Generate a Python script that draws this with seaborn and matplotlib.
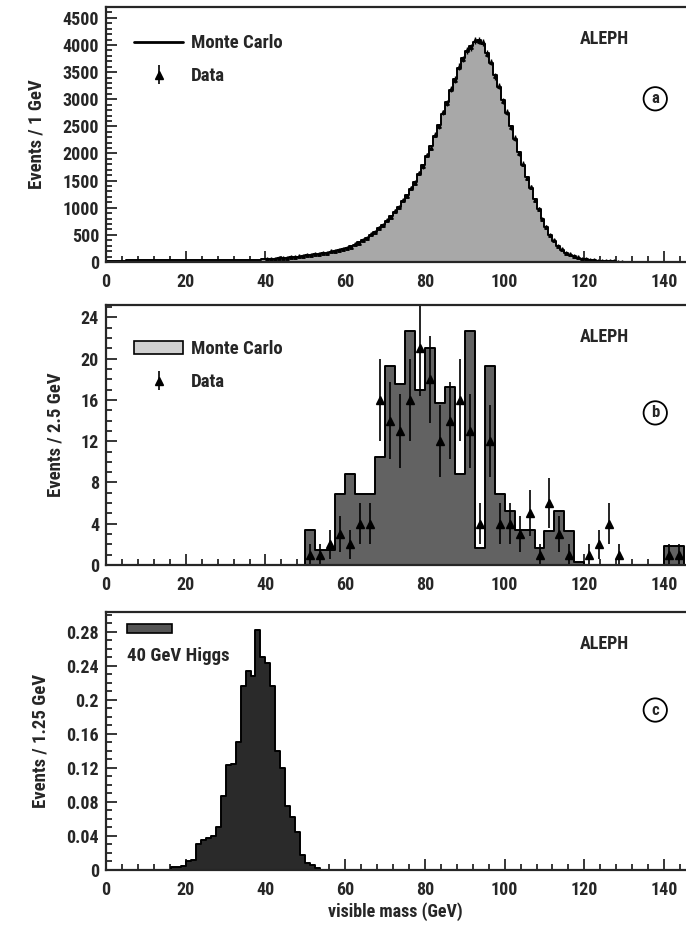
import numpy as np
import pandas as pd
import matplotlib
matplotlib.use("Agg")
import matplotlib.pyplot as plt
from matplotlib.patches import Patch, Rectangle
from matplotlib.lines import Line2D
from matplotlib.ticker import MultipleLocator
import seaborn as sns

# ---------------- data ----------------
# panel (a): 1 GeV bins, 0..150
edges_a = list(range(0, 151))
mc_a = [10, 15, 20, 25, 25, 30, 30, 30, 30, 30,
        30, 35, 35, 35, 35, 40, 40, 40, 40, 40,
        40, 40, 40, 40, 40, 35, 35, 35, 35, 35,
        35, 35, 35, 35, 35, 40, 40, 45, 45, 50,
        50, 55, 60, 65, 70, 75, 85, 95, 100, 110,
        120, 130, 140, 150, 160, 175, 190, 205, 220, 240,
        260, 290, 320, 360, 400, 450, 500, 560, 620, 690,
        760, 840, 930, 1020, 1120, 1230, 1350, 1480, 1620, 1780,
        1950, 2130, 2320, 2520, 2730, 2950, 3170, 3380, 3580, 3760,
        3880, 3980, 4060, 4100, 4020, 3860, 3660, 3440, 3220, 2980,
        2740, 2500, 2260, 2020, 1790, 1570, 1360, 1160, 970, 800,
        640, 500, 390, 300, 230, 175, 135, 105, 80, 62,
        50, 40, 32, 26, 21, 17, 14, 11, 9, 8,
        7, 6, 5, 5, 4, 4, 3, 3, 3, 2, 2, 2, 2, 2, 1, 1, 1, 1, 1, 1]
data_a_x = [m + 0.5 for m in range(40, 130)]
data_a = [48, 58, 57, 68, 72, 73, 88, 92, 104, 108,
          124, 127, 143, 148, 165, 171, 194, 201, 226, 236,
          266, 285, 327, 352, 408, 442, 510, 552, 631, 680,
          772, 831, 942, 1008, 1135, 1218, 1366, 1465, 1637, 1762,
          1972, 2110, 2345, 2498, 2756, 2928, 3195, 3362, 3602, 3741,
          3905, 3961, 4085, 4082, 4046, 3838, 3684, 3421, 3247, 2961,
          2768, 2482, 2285, 2001, 1812, 1553, 1378, 1146, 986, 788,
          652, 493, 398, 294, 236, 171, 139, 102, 83, 60,
          52, 39, 33, 25, 22, 16, 15, 10, 9, 8]

# panel (b): 2.5 GeV bins, 0..150
edges_b = [2.5 * i for i in range(61)]
mc_b = [0] * 20 + [3.4, 1.5, 1.5, 6.9, 8.8, 6.9, 6.9, 10.5, 19.3, 17.5,
                   22.7, 17.0, 21.0, 15.7, 17.3, 8.8, 22.7, 1.6, 19.3, 6.9,
                   5.2, 3.4, 3.4, 1.6, 3.3, 5.2, 3.3, 0.3, 0, 0,
                   0, 0, 0, 0, 0, 0, 1.8, 1.8, 0, 0]
data_b_x = [51.25, 53.75, 56.25, 58.75, 61.25, 63.75, 66.25, 68.75, 71.25, 73.75,
            76.25, 78.75, 81.25, 83.75, 86.25, 88.75, 91.25, 93.75, 96.25, 98.75,
            101.25, 103.75, 106.25, 108.75, 111.25, 113.75, 116.25, 121.25, 123.75,
            126.25, 128.75, 141.25, 143.75]
data_b = [1, 1, 2, 3, 2, 4, 4, 16, 14, 13,
          16, 21, 18, 12, 14, 16, 13, 4, 12, 4,
          4, 3, 5, 1, 6, 3, 1, 1, 2,
          4, 1, 1, 1]

# panel (c): 1.25 GeV bins, 15..55
edges_c = [15 + 1.25 * i for i in range(33)]
mc_c = [0.0, 0.003, 0.003, 0.005, 0.010, 0.012, 0.030, 0.035, 0.038, 0.040,
        0.050, 0.087, 0.123, 0.125, 0.150, 0.216, 0.234, 0.228, 0.282, 0.250,
        0.244, 0.216, 0.140, 0.120, 0.075, 0.062, 0.045, 0.018, 0.008, 0.006,
        0.002, 0.0]

# ---------------- style ----------------
sns.set_theme(style="ticks")
FONT = ["Roboto Condensed", "Liberation Sans Narrow", "Liberation Sans", "DejaVu Sans"]
plt.rcParams["font.family"] = FONT
plt.rcParams["font.weight"] = "bold"
plt.rcParams["axes.linewidth"] = 1.6

fig = plt.figure(figsize=(6.86, 9.31), dpi=100)
left = 106 / 686
width = 1.0 - left
ax_a = fig.add_axes([left, 1 - 262 / 931, width, (262 - 7) / 931])
ax_b = fig.add_axes([left, 1 - 565 / 931, width, (565 - 305) / 931])
ax_c = fig.add_axes([left, 1 - 870 / 931, width, (870 - 612) / 931])


def centers(edges):
    return [(edges[i] + edges[i + 1]) / 2 for i in range(len(edges) - 1)]


def mc_hist(ax, edges, vals, color):
    df = pd.DataFrame({"mass": centers(edges), "w": vals})
    sns.histplot(data=df, x="mass", weights="w", bins=edges, element="step",
                 fill=True, color=color, edgecolor="black", linewidth=1.4,
                 alpha=1.0, ax=ax)


mc_hist(ax_a, edges_a, mc_a, "#a8a8a8")
mc_hist(ax_b, edges_b, mc_b, "#626262")
mc_hist(ax_c, edges_c, mc_c, "#2a2a2a")

# data points
ax_a.errorbar(data_a_x, data_a, yerr=np.sqrt(data_a), fmt="^", color="black",
              ms=2.5, elinewidth=1, capsize=0)
eb_b = ax_b.errorbar(data_b_x, data_b, yerr=np.sqrt(data_b), fmt="^", color="black",
                     ms=6, elinewidth=1.2, capsize=0)

# axes cosmetics
ylims = [(0, 4700), (0, 25.2), (0, 0.3035)]
ymaj = [500, 4, 0.04]
ymin = [100, 1, 0.01]
ylabels = ["Events / 1 GeV", "Events / 2.5 GeV", "Events / 1.25 GeV"]
tags = ["a", "b", "c"]
tag_y = [0.64, 0.585, 0.62]
for ax, yl, ma, mi, lab, tag, ty in zip([ax_a, ax_b, ax_c], ylims, ymaj, ymin,
                                        ylabels, tags, tag_y):
    ax.set_xlim(0, 145.5)
    ax.set_ylim(*yl)
    ax.xaxis.set_major_locator(MultipleLocator(20))
    ax.xaxis.set_minor_locator(MultipleLocator(4))
    ax.yaxis.set_major_locator(MultipleLocator(ma))
    ax.yaxis.set_minor_locator(MultipleLocator(mi))
    ax.tick_params(which="both", direction="in", top=False, right=False,
                   labelsize=13, width=1.3)
    ax.tick_params(which="major", length=8, pad=5)
    ax.tick_params(axis="x", which="major", pad=8)
    ax.tick_params(which="minor", length=4)
    for t in ax.get_xticklabels() + ax.get_yticklabels():
        t.set_fontweight("bold")
    ax.spines["right"].set_visible(False)
    ax.set_xlabel("")
    ax.set_ylabel(lab, fontsize=13.5, fontweight="bold", labelpad=12)
    ax.text(0.817, 0.875, "ALEPH", transform=ax.transAxes, fontsize=13,
            fontweight="bold", ha="left", va="center")
    ax.text(0.947, ty, tag, transform=ax.transAxes,
            fontsize=12, fontweight="bold", ha="center", va="center",
            bbox=dict(boxstyle="circle,pad=0.25", fc="white", ec="black", lw=1.3))

ax_c.set_yticklabels([f"{v:g}" for v in ax_c.get_yticks()])
ax_c.set_ylim(*ylims[2])

# legends
leg_kw = dict(loc="upper left", bbox_to_anchor=(0.02, 0.96), frameon=False,
              handlelength=2.6, handletextpad=0.4, labelspacing=0.8,
              prop={"weight": "bold", "size": 13.5})
line_mc = Line2D([0], [0], color="black", lw=2)
ax_a.legend([line_mc, eb_b], ["Monte Carlo", "Data"], **leg_kw)
leg_kw_b = dict(leg_kw)
leg_kw_b["bbox_to_anchor"] = (0.02, 0.93)
ax_b.legend([Patch(fc="#d0d0d0", ec="black", lw=1.2), eb_b], ["Monte Carlo", "Data"],
            **leg_kw_b)

# panel (c) legend: sample patch above its label
ax_c.add_patch(Rectangle((0.036, 0.918), 0.078, 0.035, transform=ax_c.transAxes,
                         fc="#555555", ec="black", lw=1.2, clip_on=False))
ax_c.text(0.036, 0.83, "40 GeV Higgs", transform=ax_c.transAxes, fontsize=13.5,
          fontweight="bold", ha="left", va="center")

fig.text(395 / 686, 1 - 912 / 931, "visible mass (GeV)", ha="center", va="center",
         fontsize=13, fontweight="bold")

fig.savefig("out.png", dpi=100)
